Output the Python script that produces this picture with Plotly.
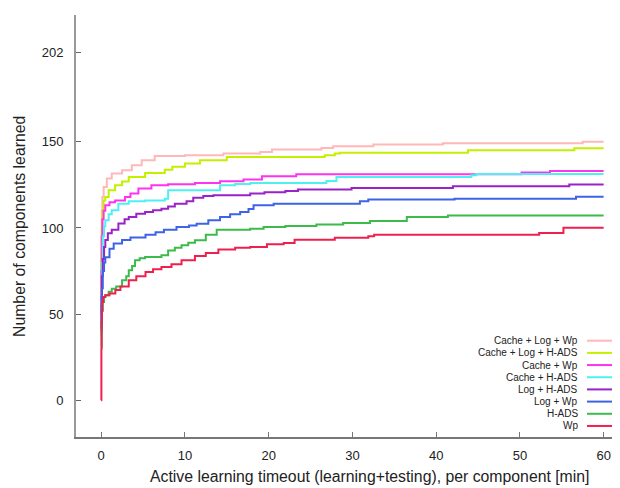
import plotly.graph_objects as go

# ---- data ----
series_names = ["Cache + Log + Wp", "Cache + Log + H-ADS", "Cache + Wp", "Cache + H-ADS",
                "Log + H-ADS", "Log + Wp", "H-ADS", "Wp"]

pink_x = [0, 0.03, 0.08, 0.15, 0.3, 0.68, 1.27, 2.5, 3.66, 4.85, 6.4, 10, 14.6, 19, 20.4, 26.3, 27.7, 32.5, 40.8, 57.5, 60]
pink_y = [60, 95, 110, 118, 123.8, 128.7, 131.6, 133.5, 136.4, 139.3, 141.8, 142.2, 143.2, 144.1, 145.5, 146.4, 147.4, 148.4, 149.2, 150.1, 150.1]

lime_x = [0, 0.03, 0.08, 0.15, 0.3, 0.5, 0.9, 1.67, 2.5, 3.3, 5.25, 7.6, 8.5, 10, 11.8, 15, 26.7, 27.9, 28.5, 43.8, 56.5, 60]
lime_y = [55, 85, 100, 110, 116, 118, 121.9, 124.8, 127, 129.6, 131.9, 133.8, 135.5, 137.4, 139.3, 141.2, 142.2, 143.2, 143.7, 145.1, 146.3, 146.3]

magenta_x = [0, 0.03, 0.08, 0.15, 0.3, 0.5, 1.0, 1.67, 2.85, 3.5, 4.45, 6.0, 8.0, 11.2, 14.2, 17, 19.2, 23.3, 50.2, 53.6, 60]
magenta_y = [50, 75, 95, 105, 110, 113.2, 115, 116, 118, 120, 122.9, 124.8, 125.4, 126.1, 127.1, 128.1, 130, 131.2, 132.2, 133.1, 133.1]

cyan_x = [0, 0.05, 0.1, 0.2, 0.35, 0.5, 0.9, 1.27, 2.06, 3.3, 5.25, 7.6, 8.0, 14.2, 16, 17.8, 26.9, 28.1, 44.2, 44.8, 60]
cyan_y = [37, 60, 80, 95, 101, 104.5, 108, 110.3, 114.1, 115.5, 116, 117, 121.9, 124.8, 125.5, 126.1, 127.3, 129.6, 130.6, 131.3, 131.3]

purple_x = [0, 0.05, 0.1, 0.2, 0.35, 0.5, 0.8, 1.27, 2.06, 2.8, 3.3, 4.2, 5.25, 6.2, 7.2, 8.0, 8.8, 10.2, 11, 12.2, 13.4, 17.8, 19.5, 22, 23.5, 29.9, 42, 55.9, 60]
purple_y = [42, 60, 72, 82, 89, 93, 97, 99, 102.6, 105, 106.4, 108.3, 109.3, 110.3, 111.2, 112.5, 114.1, 115.5, 117.6, 118.5, 119, 120, 120.8, 121.5, 122.3, 123.2, 124.2, 125.2, 125.2]

blue_x = [0, 0.05, 0.1, 0.2, 0.35, 0.5, 1.0, 1.5, 2.5, 3.5, 5.3, 6.5, 7.5, 9.0, 10.5, 11.4, 12.8, 14.2, 15.4, 16.6, 17.6, 18.2, 20.6, 30.9, 31.9, 42.2, 56.7, 60]
blue_y = [40, 55, 65, 75, 80, 83, 88, 91, 93, 94.5, 96, 97.5, 99, 100.6, 101.5, 102.5, 104.5, 106.4, 108, 109.3, 111, 113.2, 114.1, 115.5, 116.5, 117.0, 118.1, 118.1]

green_x = [0, 0.05, 0.1, 0.2, 0.35, 0.5, 0.9, 1.27, 1.8, 2.5, 3.0, 3.3, 3.7, 4.05, 4.6, 5.25, 7.2, 8.0, 8.8, 9.6, 10.4, 11.2, 12.5, 13.8, 17.8, 19.4, 22, 25.7, 28.9, 32.1, 36.5, 41.4, 60]
green_y = [31, 45, 52, 57, 60, 61, 63, 64.8, 66, 69.6, 72, 75.4, 78, 81.3, 82.5, 83.2, 84.2, 87, 88.5, 90, 91.5, 92.9, 96, 99, 99.6, 100.6, 101.2, 102, 102.9, 104.1, 106.4, 107.2, 107.2]

red_x = [0, 0.03, 0.06, 0.1, 0.15, 0.25, 0.5, 1.0, 1.7, 2.3, 3.3, 4.2, 5.3, 6.2, 7.2, 8.4, 9.6, 11.2, 12.5, 14.0, 16.0, 17.8, 19.8, 21.8, 23.1, 27.9, 31.9, 32.6, 52.3, 55.2, 60]
red_y = [0, 30, 45, 52, 57, 60, 61, 62, 64, 66, 69.6, 72, 74.5, 76, 77.4, 79, 81.3, 83.8, 85.5, 87.5, 88.5, 89, 90.5, 91.3, 93.2, 94.4, 95.2, 96.1, 97.1, 100.2, 100.2]

x_ticks = [0, 10, 20, 30, 40, 50, 60]
y_ticks = [0, 50, 100, 150, 202]

xs = [pink_x, lime_x, magenta_x, cyan_x, purple_x, blue_x, green_x, red_x]
ys = [pink_y, lime_y, magenta_y, cyan_y, purple_y, blue_y, green_y, red_y]
colors = ["#ffb8b8", "#c4f000", "#ff33ee", "#4ff0f0", "#9a22c8", "#3f63e6", "#3dbb4a", "#f0204e"]

FONT = "Liberation Sans, Arial, sans-serif"

fig = go.Figure()
for name, x, y, c in zip(series_names, xs, ys, colors):
    fig.add_trace(go.Scatter(x=x, y=y, mode="lines", name=name,
                             line=dict(color=c, width=2, shape="hv"),
                             showlegend=False))

# page has an 8px body margin: the figure starts at (8, 8) of the window
OFF = 8
W, H = 620 - OFF, 488 - OFF
# plot area in window pixels: left 76, right 612, top 15, bottom 437
pl, pr, pt, pb = 76 - OFF, 612 - OFF, 15 - OFF, 437 - OFF
ml, mr, mt, mb = pl, W - pr, pt, H - pb
pw, ph = pr - pl, pb - pt

def px2paper(px, py):
    # px, py are window pixel coordinates
    return (px - OFF - pl) / pw, (pb - (py - OFF)) / ph

row0, step = 340.7, 12.18
for i, (name, c) in enumerate(zip(series_names, colors)):
    py = row0 + i * step
    tx, ty = px2paper(580, py)
    fig.add_annotation(x=tx, y=ty, xref="paper", yref="paper", text=name,
                       showarrow=False, xanchor="right", yanchor="middle",
                       font=dict(family=FONT, size=10, color="#222"))
    x0, y0 = px2paper(587, py)
    x1, _ = px2paper(616, py)
    fig.add_shape(type="line", xref="paper", yref="paper", x0=x0, x1=x1, y0=y0, y1=y0,
                  line=dict(color=c, width=2))

# axis titles
tx, ty = px2paper(369, 476)
fig.add_annotation(x=tx, y=ty, xref="paper", yref="paper",
                   text="Active learning timeout (learning+testing), per component [min]",
                   showarrow=False, xanchor="center", yanchor="middle",
                   font=dict(family=FONT, size=15.8, color="#222"))
tx, ty = px2paper(19, 227)
fig.add_annotation(x=tx, y=ty, xref="paper", yref="paper",
                   text="Number of components learned", textangle=-90,
                   showarrow=False, xanchor="center", yanchor="middle",
                   font=dict(family=FONT, size=15.8, color="#222"))

fig.update_layout(
    width=W, height=H,
    margin=dict(l=ml, r=mr, t=mt, b=mb),
    paper_bgcolor="white", plot_bgcolor="white",
    font=dict(family=FONT, size=13, color="#222"),
    xaxis=dict(range=[-3, 61], tickvals=x_ticks, ticks="inside", ticklen=5,
               tickcolor="#777", showline=True, linecolor="#777", linewidth=1.5,
               showgrid=False, zeroline=False, ticklabelstandoff=6),
    yaxis=dict(range=[-21.3, 223.6], tickvals=y_ticks, ticks="inside", ticklen=5,
               tickcolor="#666", showline=True, linecolor="#999", linewidth=2,
               showgrid=False, zeroline=False, ticklabelstandoff=8),
)

fig.write_html("out.html")
